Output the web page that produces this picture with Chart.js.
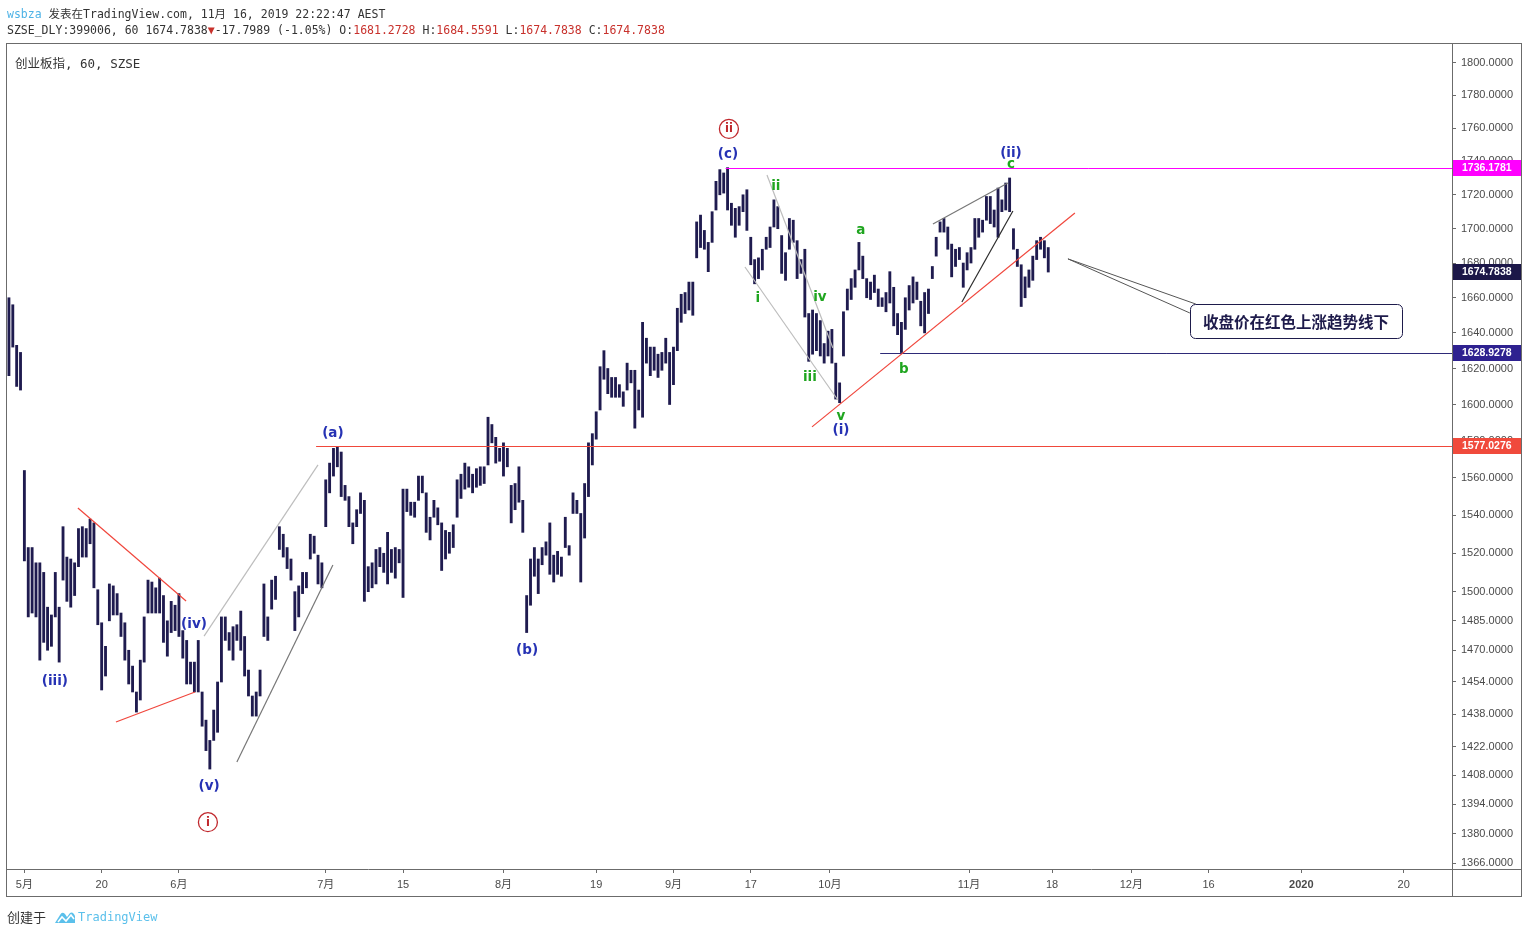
<!DOCTYPE html>
<html>
<head>
<meta charset="utf-8">
<title>创业板指, 60, SZSE</title>
<script src="https://cdn.jsdelivr.net/npm/chart.js@4.4.1/dist/chart.umd.min.js"></script>
<style>
  html, body { margin: 0; padding: 0; background: #fff; }
  #page { position: relative; width: 1528px; height: 934px; overflow: hidden; }
  #chart { position: absolute; left: 0; top: 0; }
  .mono { position: absolute; white-space: nowrap; color: #333;
          font-family: 'DejaVu Sans Mono', 'Liberation Mono', 'Noto Sans CJK SC', monospace; font-size: 11.5px; }
  .blue { color: #4fb3e6; }
  .red { color: #c8312c; }
  #title { position: absolute; left: 15px; top: 53px; font-size: 12.5px; color: #333;
           font-family: 'DejaVu Sans Mono', 'Noto Sans CJK SC', monospace; }
  #footer { position: absolute; left: 7px; top: 907px; font-size: 13px; color: #333;
            font-family: 'Noto Sans CJK SC', sans-serif; display: flex; align-items: center; }
  #footer svg { margin: 0 2px 0 8px; }
  #footer .tv { color: #5bc0eb; font-family: 'DejaVu Sans Mono', monospace; font-size: 12px; }
</style>
</head>
<body>
<div id="page">
  <canvas id="chart" width="1528" height="934"></canvas>
  <div class="mono" style="left:7px; top:5px;"><span class="blue">wsbza</span> 发表在TradingView.com, 11月 16, 2019 22:22:47 AEST</div>
  <div class="mono" style="left:7px; top:23px;">SZSE_DLY:399006, 60 1674.7838<span class="red">▼</span>-17.7989 (-1.05%) O:<span class="red">1681.2728</span> H:<span class="red">1684.5591</span> L:<span class="red">1674.7838</span> C:<span class="red">1674.7838</span></div>
  <div id="title">创业板指, 60, SZSE</div>
  <div id="footer">创建于<svg width="22" height="14" viewBox="0 0 22 14"><path d="M1 13 L6 5 Q8 1 11 4 L13 7 L16 3 Q19 1 21 6 L21 13 Z" fill="#5bc0eb"/><path d="M4 12 L8 7 L12 11 L17 5 L20 9" stroke="#fff" stroke-width="1.6" fill="none"/></svg><span class="tv">TradingView</span></div>
</div>
<script>
// Hourly bars of 创业板指 (May - Nov 2019). Each column stands for two hourly bars.
// Lows and highs.
const barLow = [
  1616, 1632, 1610, 1608, 1516, 1487, 1489, 1487, 1465, 1474,
  1470, 1472, 1487, 1464, 1506, 1495, 1492, 1498, 1513, 1518,
  1518, 1525, 1502, 1483, 1450, 1457, 1485, 1488, 1488, 1477,
  1465, 1453, 1449, 1439, 1445, 1464, 1489, 1489, 1489, 1489,
  1474, 1467, 1479, 1480, 1477, 1466, 1453, 1453, 1449, 1449,
  1432, 1420, 1411, 1425, 1429, 1454, 1475, 1470, 1465, 1475,
  1470, 1457, 1447, 1437, 1437, 1447, 1477, 1475, 1491, 1496,
  1522, 1518, 1512, 1506, 1480, 1487, 1499, 1502, 1517, 1520,
  1504, 1502, 1534, 1552, 1561, 1566, 1550, 1548, 1534, 1525,
  1534, 1541, 1495, 1500, 1502, 1504, 1513, 1510, 1504, 1510,
  1507, 1515, 1497, 1542, 1540, 1539, 1548, 1552, 1531, 1527,
  1539, 1535, 1511, 1517, 1520, 1523, 1539, 1549, 1554, 1555,
  1552, 1555, 1556, 1557, 1567, 1579, 1568, 1569, 1561, 1566,
  1536, 1543, 1547, 1531, 1479, 1493, 1508, 1499, 1514, 1519,
  1509, 1505, 1509, 1508, 1523, 1519, 1541, 1541, 1505, 1528,
  1550, 1567, 1581, 1597, 1614, 1606, 1604, 1604, 1604, 1599,
  1608, 1612, 1587, 1597, 1593, 1623, 1616, 1619, 1615, 1619,
  1623, 1600, 1611, 1630, 1646, 1651, 1653, 1650, 1683, 1689,
  1688, 1675, 1692, 1711, 1720, 1721, 1711, 1702, 1695, 1702,
  1710, 1699, 1679, 1668, 1671, 1676, 1688, 1689, 1701, 1700,
  1674, 1670, 1688, 1692, 1671, 1674, 1649, 1624, 1628, 1630,
  1627, 1623, 1627, 1623, 1603, 1601, 1627, 1653, 1659, 1666,
  1676, 1671, 1660, 1659, 1663, 1655, 1655, 1652, 1657, 1644,
  1639, 1628.93, 1642, 1653, 1657, 1659, 1644, 1640, 1651, 1671,
  1684, 1698, 1698, 1688, 1672, 1678, 1682, 1666, 1676, 1680,
  1688, 1695, 1698, 1705, 1703, 1701, 1695, 1710, 1711, 1710,
  1688, 1678, 1655, 1660, 1666, 1670, 1682, 1688, 1683, 1674.78
];
const barHigh = [
  1660, 1656, 1633, 1629, 1564, 1523, 1523, 1515, 1515, 1510,
  1492, 1488, 1510, 1492, 1534, 1518, 1517, 1515, 1533, 1534,
  1533, 1538, 1536, 1501, 1484, 1472, 1504, 1503, 1499, 1489,
  1484, 1470, 1462, 1449, 1465, 1487, 1506, 1505, 1502, 1507,
  1498, 1485, 1495, 1493, 1499, 1480, 1475, 1464, 1464, 1475,
  1449, 1435, 1425, 1440, 1454, 1487, 1487, 1479, 1482, 1483,
  1490, 1477, 1460, 1447, 1449, 1460, 1504, 1487, 1506, 1508,
  1534, 1530, 1523, 1517, 1500, 1503, 1510, 1510, 1530, 1529,
  1519, 1515, 1559, 1568, 1576, 1577, 1574, 1556, 1550, 1536,
  1543, 1552, 1548, 1513, 1515, 1522, 1523, 1520, 1531, 1522,
  1523, 1522, 1554, 1554, 1547, 1547, 1561, 1561, 1552, 1539,
  1548, 1544, 1536, 1532, 1531, 1535, 1559, 1562, 1568, 1566,
  1562, 1565, 1566, 1566, 1593, 1589, 1582, 1576, 1579, 1576,
  1556, 1557, 1566, 1548, 1498, 1517, 1523, 1517, 1523, 1526,
  1536, 1519, 1521, 1518, 1539, 1524, 1552, 1548, 1541, 1557,
  1579, 1584, 1596, 1621, 1630, 1620, 1615, 1615, 1611, 1607,
  1623, 1619, 1619, 1608, 1646, 1637, 1632, 1632, 1628, 1629,
  1637, 1629, 1632, 1654, 1662, 1663, 1669, 1669, 1704, 1708,
  1699, 1692, 1710, 1728, 1735, 1733, 1736.18, 1715, 1712, 1713,
  1720, 1723, 1695, 1682, 1683, 1688, 1695, 1701, 1717, 1713,
  1696, 1686, 1706, 1705, 1693, 1682, 1688, 1651, 1653, 1651,
  1647, 1634, 1641, 1642, 1623, 1612, 1652, 1665, 1671, 1676,
  1692, 1684, 1671, 1669, 1673, 1665, 1660, 1663, 1675, 1666,
  1651, 1646, 1660, 1667, 1672, 1669, 1658, 1663, 1665, 1678,
  1695, 1704, 1706, 1701, 1691, 1688, 1689, 1680, 1686, 1689,
  1706, 1706, 1705, 1719, 1719, 1711, 1724, 1717, 1727, 1730,
  1700, 1688, 1679, 1672, 1676, 1684, 1693, 1695, 1693, 1689
];
const firstBar = 1;     // bar index of the first column
const barStep = 2;      // hourly bars per column
const lastBarSlot = 748; // right edge of the plot, in bar slots

// price axis (log scale)
const priceMin = 1363.2;
const priceMax = 1811.8;
const priceTicks = [1800, 1780, 1760, 1740, 1720, 1700, 1680, 1660, 1640, 1620, 1600, 1580,
                    1560, 1540, 1520, 1500, 1485, 1470, 1454, 1438, 1422, 1408, 1394, 1380, 1366];

// time axis
const dateTickBars = [9, 49, 89, 165, 205, 257, 305, 345, 385, 426, 498, 541, 582, 622, 670, 723];
const dateTickLabels = ['5月', '20', '6月', '7月', '15', '8月', '19', '9月', '17', '10月', '11月', '18', '12月', '16', '2020', '20'];

// marked prices on the right axis
const markPrices = [1736.1781, 1674.7838, 1628.9278, 1577.0276];
const markColors = ['#ff00ff', '#1c1748', '#2e2190', '#f04a3c'];

// horizontal levels: price and first bar slot
const levelPrices = [1736.1781, 1628.9278, 1577.0276];
const levelFromBar = [372, 452, 160];
const levelColors = ['#ff00ff', '#2e2a78', '#f0473a'];

// Elliott wave labels
const blueText = ['(iii)', '(iv)', '(v)', '(a)', '(b)', '(c)', '(i)', '(ii)'];
const blueBar = [24.8, 96.8, 104.6, 168.7, 269.2, 373.2, 431.7, 519.7];
const bluePrice = [1454.5, 1482.9, 1402.4, 1584.3, 1470.1, 1744.0, 1586.0, 1744.6];

const greenText = ['ii', 'i', 'iv', 'iii', 'v', 'a', 'b', 'c'];
const greenBar = [398, 388.7, 420.8, 415.6, 431.7, 442, 464.3, 519.7];
const greenPrice = [1725.2, 1659.3, 1659.9, 1614.7, 1593.2, 1698.7, 1619.2, 1738.2];

const circleText = ['i', 'ii'];
const circleBar = [104, 373.7];
const circlePrice = [1385.4, 1759.5];

// drawn trend lines, [bar slot, price] to [bar slot, price]
const trendLines = [
  { from: [36.7, 1543.9], to: [92.7, 1495.2], kind: 'red' },
  { from: [56.4, 1434.1], to: [97.3, 1449.0], kind: 'red' },
  { from: [102, 1477.2], to: [161, 1567.0], kind: 'light' },
  { from: [119, 1414.4], to: [168.7, 1513.9], kind: 'gray' },
  { from: [393.4, 1731.8], to: [427.5, 1631.5], kind: 'light' },
  { from: [382, 1677.7], to: [430.1, 1602.5], kind: 'light' },
  { from: [416.7, 1587.7], to: [552.8, 1709.2], kind: 'red' },
  { from: [479.3, 1702.8], to: [518.1, 1727.0], kind: 'gray' },
  { from: [494.3, 1657.6], to: [520.7, 1710.4], kind: 'dark' },
  { from: [549.2, 1682.4], to: [615.4, 1656.4], kind: 'pointer' },
  { from: [549.2, 1682.4], to: [612.3, 1651.3], kind: 'pointer' }
];
const lineStyles = {
  red: { color: '#f0463c', width: 1.2 },
  light: { color: '#bdbdbd', width: 1.2 },
  gray: { color: '#777', width: 1.2 },
  dark: { color: '#2b2b2b', width: 1.2 },
  pointer: { color: '#555', width: 1 }
};

const calloutText = '收盘价在红色上涨趋势线下';
const calloutAt = [667.2, 1646.7];

const axisFont = "'Liberation Sans', 'Noto Sans CJK SC', sans-serif";
const labelFont = "'DejaVu Sans', sans-serif";

// Build the floating bars
const bars = barLow.map((lo, k) => ({ x: firstBar + k * barStep, y: [lo, barHigh[k]] }));

const overlay = {
  id: 'overlay',
  afterDatasetsDraw(chart) {
    const { ctx, chartArea: a, scales: { x, y } } = chart;
    ctx.save();
    ctx.beginPath();
    ctx.rect(a.left, a.top, a.right - a.left, a.bottom - a.top);
    ctx.clip();

    // horizontal levels
    levelPrices.forEach((p, i) => {
      const py = Math.round(y.getPixelForValue(p)) + 0.5;
      ctx.strokeStyle = levelColors[i];
      ctx.lineWidth = 1;
      ctx.beginPath();
      ctx.moveTo(x.getPixelForValue(levelFromBar[i]), py);
      ctx.lineTo(a.right, py);
      ctx.stroke();
    });

    // trend lines
    trendLines.forEach(l => {
      const s = lineStyles[l.kind];
      ctx.strokeStyle = s.color;
      ctx.lineWidth = s.width;
      ctx.beginPath();
      ctx.moveTo(x.getPixelForValue(l.from[0]), y.getPixelForValue(l.from[1]));
      ctx.lineTo(x.getPixelForValue(l.to[0]), y.getPixelForValue(l.to[1]));
      ctx.stroke();
    });

    // wave labels
    ctx.textAlign = 'center';
    ctx.textBaseline = 'middle';
    ctx.font = 'bold 13.5px ' + labelFont;
    ctx.fillStyle = '#2632b4';
    blueText.forEach((t, i) => ctx.fillText(t, x.getPixelForValue(blueBar[i]), y.getPixelForValue(bluePrice[i])));
    ctx.fillStyle = '#1fa51f';
    greenText.forEach((t, i) => ctx.fillText(t, x.getPixelForValue(greenBar[i]), y.getPixelForValue(greenPrice[i])));

    ctx.font = 'bold 11.5px ' + labelFont;
    circleText.forEach((t, i) => {
      const cx = x.getPixelForValue(circleBar[i]);
      const cy = y.getPixelForValue(circlePrice[i]);
      ctx.fillStyle = '#fff';
      ctx.strokeStyle = '#c0282d';
      ctx.lineWidth = 1.3;
      ctx.beginPath();
      ctx.arc(cx, cy, 9.5, 0, Math.PI * 2);
      ctx.fill();
      ctx.stroke();
      ctx.fillStyle = '#c0282d';
      ctx.fillText(t, cx, cy + 0.5);
    });

    // callout box
    const bx = x.getPixelForValue(calloutAt[0]);
    const by = y.getPixelForValue(calloutAt[1]);
    const w = 212, h = 34;
    ctx.fillStyle = '#fff';
    ctx.strokeStyle = '#1e1b4b';
    ctx.lineWidth = 1;
    ctx.beginPath();
    ctx.roundRect(Math.round(bx - w / 2) + 0.5, Math.round(by - h / 2) + 0.5, w, h, 5);
    ctx.fill();
    ctx.stroke();
    ctx.fillStyle = '#1e1b4b';
    ctx.font = "bold 15.5px 'Noto Sans CJK SC', sans-serif";
    ctx.fillText(calloutText, bx, by + 1);
    ctx.restore();
  },
  afterDraw(chart) {
    const { ctx, chartArea: a, scales: { y } } = chart;
    ctx.save();
    // price marks on the axis
    ctx.font = 'bold 10.5px ' + axisFont;
    ctx.textAlign = 'left';
    ctx.textBaseline = 'middle';
    markPrices.forEach((p, i) => {
      const py = Math.round(y.getPixelForValue(p));
      ctx.fillStyle = markColors[i];
      ctx.fillRect(a.right + 1, py - 8, 68, 16);
      ctx.fillStyle = '#fff';
      ctx.fillText(p.toFixed(4), a.right + 10, py + 0.5);
    });
    // frame
    ctx.strokeStyle = '#6b6b6b';
    ctx.lineWidth = 1;
    ctx.strokeRect(6.5, 43.5, 1515, 853);
    ctx.beginPath();
    ctx.moveTo(a.right, a.bottom + 0.5);
    ctx.lineTo(1521, a.bottom + 0.5);
    ctx.moveTo(a.right + 0.5, a.bottom);
    ctx.lineTo(a.right + 0.5, 896);
    ctx.stroke();
    ctx.restore();
  }
};

new Chart(document.getElementById('chart'), {
  type: 'bar',
  data: {
    datasets: [{
      data: bars,
      backgroundColor: '#1f1b4f',
      barThickness: 2.2,
      grouped: false
    }]
  },
  options: {
    responsive: false,
    animation: false,
    devicePixelRatio: 1,
    layout: { padding: { left: 7, right: 7, top: 44, bottom: 38 } },
    plugins: { legend: { display: false }, tooltip: { enabled: false } },
    scales: {
      x: {
        type: 'linear',
        offset: false,
        min: 0,
        max: lastBarSlot,
        position: 'bottom',
        afterBuildTicks: s => { s.ticks = dateTickBars.map(v => ({ value: v })); },
        afterFit: s => { s.height = 27; },
        grid: { offset: false, drawOnChartArea: false, drawTicks: true, tickLength: 4, color: '#6b6b6b' },
        border: { color: '#6b6b6b' },
        ticks: {
          autoSkip: false,
          maxRotation: 0,
          padding: 5,
          color: '#4a4a4a',
          font: c => ({ family: axisFont, size: 11, weight: dateTickLabels[c.index] === '2020' ? 'bold' : 'normal' }),
          callback: (v, i) => dateTickLabels[i]
        }
      },
      y: {
        type: 'logarithmic',
        position: 'right',
        min: priceMin,
        max: priceMax,
        afterBuildTicks: s => { s.ticks = priceTicks.map(v => ({ value: v })); },
        afterFit: s => { s.width = 69; },
        grid: { drawOnChartArea: false, drawTicks: true, tickLength: 4, color: '#6b6b6b' },
        border: { color: '#6b6b6b' },
        ticks: {
          padding: 5,
          color: '#4a4a4a',
          font: { family: axisFont, size: 11 },
          callback: v => Number(v).toFixed(4)
        }
      }
    }
  },
  plugins: [overlay]
});
</script>
</body>
</html>
